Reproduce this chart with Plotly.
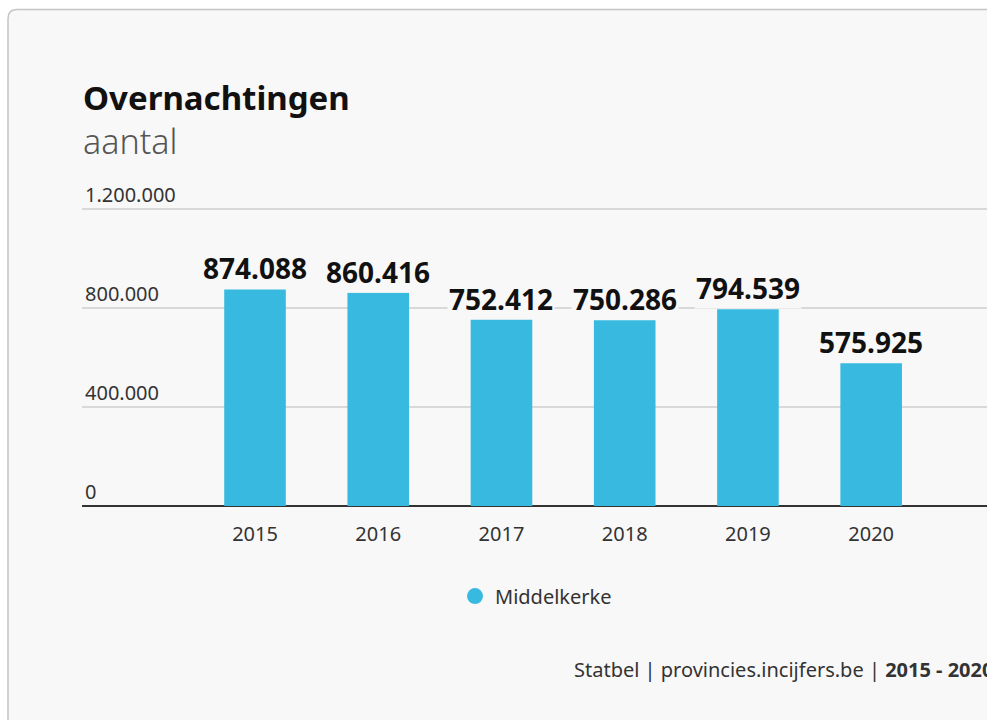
import plotly.graph_objects as go

years = ["2015", "2016", "2017", "2018", "2019", "2020"]
overnachtingen = [874088, 860416, 752412, 750286, 794539, 575925]
series_name = "Middelkerke"
y_ticks = [0, 400000, 800000, 1200000]

BAR_COLOR = "#38bae0"
CARD_BG = "#f8f8f8"
FONT = "Noto Sans"

# body margin is removed in the page, so figure pixels == screen pixels
W, H = 987, 720
L, R, T, B = 82, 987, 179.3, 506   # plot area in pixels


def px(x):
    return (x - L) / (R - L)


def py(y):
    return (B - y) / (B - T)


fig = go.Figure()
fig.add_trace(go.Bar(
    x=years,
    y=overnachtingen,
    width=0.5,
    marker_color=BAR_COLOR,
    marker_line_width=0,
    showlegend=False,
    name=series_name,
))
# legend entry with round marker
fig.add_trace(go.Scatter(
    x=[None], y=[None],
    mode="markers",
    marker=dict(color=BAR_COLOR, size=20, symbol="circle"),
    name=series_name,
))

annotations = []
for i, v in enumerate(overnachtingen):
    annotations.append(dict(
        x=i, y=v, xref="x", yref="y",
        text="<b>" + f"{v:,}".replace(",", ".") + "</b>",
        showarrow=False, yanchor="bottom", yshift=0,
        bgcolor=CARD_BG, borderpad=1,
        font=dict(family=FONT, size=28, color="#111"),
    ))

annotations += [
    dict(x=px(81), y=py(98), xref="paper", yref="paper", xanchor="left", yanchor="middle",
         text="<b>Overnachtingen</b>", showarrow=False,
         font=dict(family=FONT, size=33, color="#111")),
    dict(x=px(81), y=py(141), xref="paper", yref="paper", xanchor="left", yanchor="middle",
         text="aantal", showarrow=False,
         font=dict(family=FONT, size=34, color="#555", weight=300)),
    dict(x=px(572), y=py(669), xref="paper", yref="paper", xanchor="left", yanchor="middle",
         text="Statbel | provincies.incijfers.be | <b>2015 - 2020</b>", showarrow=False,
         font=dict(family=FONT, size=20, color="#333")),
]

# rounded card behind everything
x0, x1 = px(8), px(1010)
y0, y1 = py(740), py(10)
rx, ry = 9 / (R - L), 9 / (B - T)
card_path = (
    f"M {x0 + rx},{y1} L {x1},{y1} L {x1},{y0} L {x0},{y0} "
    f"L {x0},{y1 - ry} Q {x0},{y1} {x0 + rx},{y1} Z"
)

fig.update_layout(
    width=W, height=H,
    margin=dict(l=L, r=W - R, t=T, b=H - B, pad=0),
    paper_bgcolor="white",
    plot_bgcolor="rgba(0,0,0,0)",
    separators=",.",
    font=dict(family=FONT, color="#333"),
    shapes=[dict(type="path", path=card_path, xref="paper", yref="paper",
                 fillcolor=CARD_BG, line=dict(color="#c4c4c4", width=1.5), layer="below")],
    annotations=annotations,
    xaxis=dict(
        range=[-1.404, 5.94], showgrid=False, showline=False, zeroline=False,
        ticks="", ticklabelstandoff=14,
        tickfont=dict(family=FONT, size=20, color="#333"),
    ),
    yaxis=dict(
        range=[0, 1320000], tickvals=y_ticks, tickformat=",",
        ticklabelposition="inside top", ticks="",
        tickfont=dict(family=FONT, size=20, color="#333"),
        showgrid=True, gridcolor="#d9d9d9", gridwidth=2,
        zeroline=True, zerolinecolor="#333", zerolinewidth=2,
        showline=False,
    ),
    legend=dict(orientation="h", x=px(455), xanchor="left", y=py(596), yanchor="middle",
                font=dict(family=FONT, size=20, color="#333"), bgcolor="rgba(0,0,0,0)",
                borderwidth=0),
    bargap=0.5,
)

fig.write_html("out.html", config={"responsive": False, "displayModeBar": False},
               post_script="document.body.style.margin='0px';")
